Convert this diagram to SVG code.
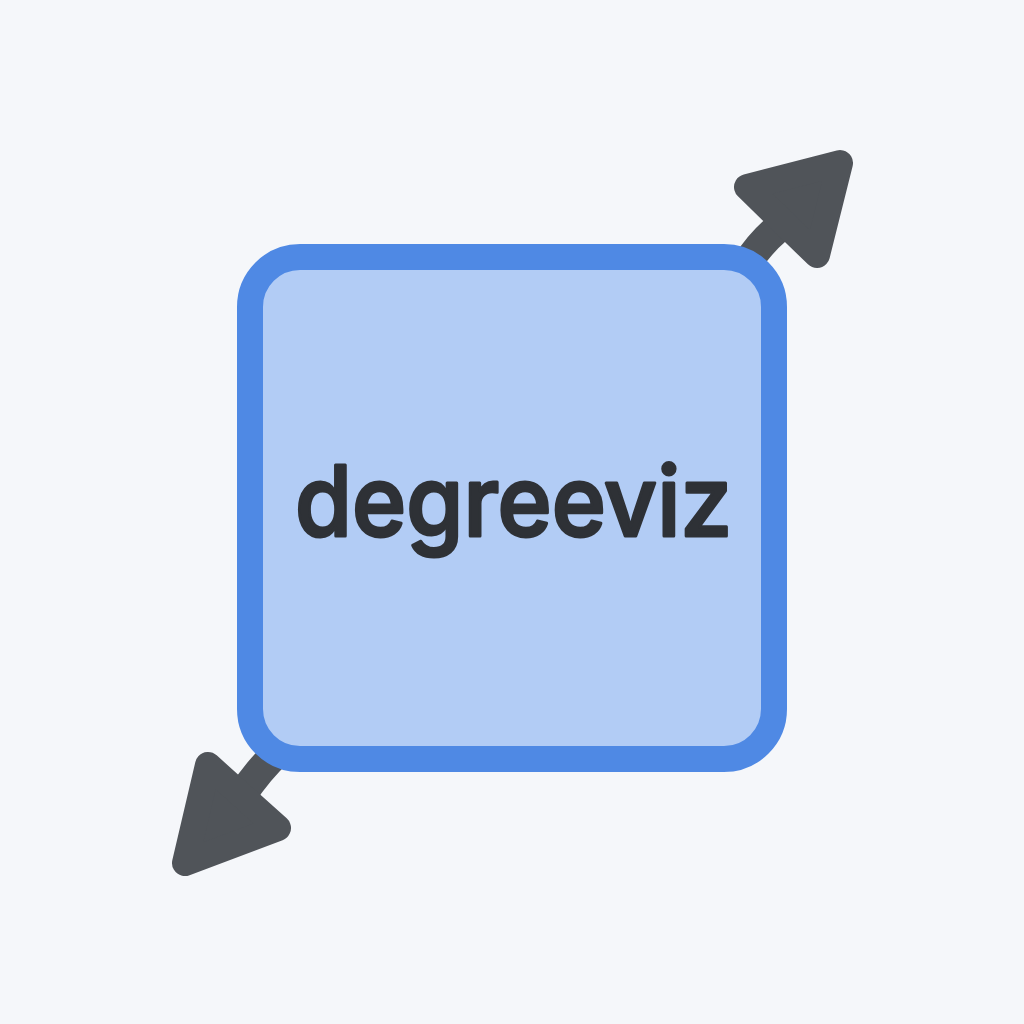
<svg xmlns="http://www.w3.org/2000/svg" width="1024" height="1024" viewBox="0 0 1024 1024">
<style>
.conn{stroke:#505459;stroke-width:30;fill:none}
.head{fill:#505459;stroke:#505459;stroke-width:26;stroke-linejoin:round}
.box{fill:#b2ccf5;stroke:#4f89e4;stroke-width:26}
.lbl{font-family:"Inter","Liberation Sans",sans-serif;font-size:98px;font-weight:500;fill:#2e3136;stroke:#2e3136;stroke-width:3;stroke-linejoin:round;text-anchor:middle}
</style>
<rect width="1024" height="1024" fill="#f5f7fa"/>
<g id="connectors">
<path class="conn" d="M745 267Q758 245 778 228"/>
<path class="conn" d="M280 750Q258 770 240 798"/>
<polygon class="head" points="840,163 747,187 817,255"/>
<polygon class="head" points="185,863 278,828 208,765"/>
</g>
<g id="degreeviz">
<rect class="box" x="250" y="257" width="524" height="502" rx="50"/>
<text class="lbl" x="513.5" y="536" textLength="437" lengthAdjust="spacingAndGlyphs">degreeviz</text>
</g>
</svg>
